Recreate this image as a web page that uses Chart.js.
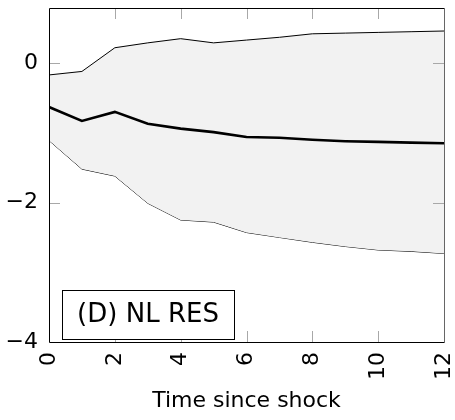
<!DOCTYPE html>
<html><head><meta charset="utf-8">
<script src="https://cdn.jsdelivr.net/npm/chart.js@4/dist/chart.umd.min.js"></script>
<style>html,body{margin:0;padding:0;background:#fff}#wrap{width:455px;height:420px}</style>
</head><body><div id="wrap"><canvas id="c" width="455" height="420"></canvas></div>
<script>
const steps = [0,1,2,3,4,5,6,7,8,9,10,11,12];
const upperBand = [-0.17,-0.12,0.22,0.29,0.35,0.29,0.33,0.37,0.42,0.43,0.44,0.45,0.46];
const meanLine  = [-0.63,-0.83,-0.70,-0.87,-0.94,-0.99,-1.06,-1.07,-1.10,-1.12,-1.13,-1.14,-1.15];
const lowerBand = [-1.11,-1.52,-1.62,-2.01,-2.25,-2.28,-2.43,-2.50,-2.57,-2.63,-2.68,-2.70,-2.73];
const xTicks = [0,2,4,6,8,10,12];
const yTicks = [-4,-2,0];
const panelLabel = '(D) NL RES';
const xTitle = 'Time since shock';
const FONT = "'DejaVu Sans', sans-serif";

const pts = arr => steps.map((x,i)=>({x:x,y:arr[i]}));

const framePlugin = {
  id:'frame',
  afterDatasetsDraw(chart){
    const {ctx, chartArea:a, scales} = chart;
    ctx.save();
    ctx.strokeStyle = '#a8a8a8'; ctx.lineWidth = 1;
    const tl = 11;
    xTicks.forEach(v=>{
      const px = Math.round(scales.x.getPixelForValue(v))+0.5;
      if (px <= a.left+1 || px >= a.right-1) return;
      ctx.beginPath(); ctx.moveTo(px,a.bottom); ctx.lineTo(px,a.bottom-tl); ctx.stroke();
      ctx.beginPath(); ctx.moveTo(px,a.top); ctx.lineTo(px,a.top+tl); ctx.stroke();
    });
    yTicks.forEach(v=>{
      const py = Math.round(scales.y.getPixelForValue(v))+0.5;
      if (py <= a.top+1 || py >= a.bottom-1) return;
      ctx.beginPath(); ctx.moveTo(a.left,py); ctx.lineTo(a.left+tl,py); ctx.stroke();
      ctx.beginPath(); ctx.moveTo(a.right,py); ctx.lineTo(a.right-tl,py); ctx.stroke();
    });
    const bx = a.left+13, by = a.bottom-52, bw = 172, bh = 49;
    ctx.fillStyle = '#fff';
    ctx.fillRect(bx,by,bw,bh);
    ctx.strokeStyle = '#000'; ctx.lineWidth = 1;
    ctx.strokeRect(bx+0.5,by+0.5,bw,bh);
    ctx.fillStyle = '#000';
    ctx.font = '26px ' + FONT;
    ctx.textAlign = 'center'; ctx.textBaseline = 'middle';
    ctx.fillText(panelLabel, bx+bw/2, by+bh/2+1);
    ctx.lineWidth = 1;
    ctx.strokeStyle = '#000';
    ctx.beginPath();
    ctx.moveTo(a.right, a.top+0.5); ctx.lineTo(a.left+0.5, a.top+0.5);
    ctx.lineTo(a.left+0.5, a.bottom+0.5); ctx.lineTo(a.right, a.bottom+0.5);
    ctx.stroke();
    ctx.strokeStyle = '#666';
    ctx.beginPath(); ctx.moveTo(a.right+0.5, a.top); ctx.lineTo(a.right+0.5, a.bottom+1); ctx.stroke();
    ctx.restore();
  }
};

new Chart(document.getElementById('c'), {
  type:'line',
  data:{datasets:[
    {data:pts(upperBand), borderColor:'#000', borderWidth:1, pointRadius:0, fill:'+1', backgroundColor:'#f2f2f2', tension:0, order:2},
    {data:pts(lowerBand), borderColor:'#000', borderWidth:1, pointRadius:0, fill:false, tension:0, order:2},
    {data:pts(meanLine), borderColor:'#000', borderWidth:2.6, pointRadius:0, fill:false, tension:0, order:1}
  ]},
  options:{
    responsive:false, animation:false, devicePixelRatio:1,
    layout:{padding:{top:8, right:11, left:0, bottom:0}},
    plugins:{legend:{display:false}, tooltip:{enabled:false}},
    scales:{
      x:{type:'linear', min:0, max:12,
        afterBuildTicks(s){ s.ticks = xTicks.map(v=>({value:v})); },
        afterFit(s){ s.height = 78; s.paddingLeft = 0; s.paddingRight = 0; },
        grid:{display:false, drawTicks:false}, border:{display:false},
        ticks:{minRotation:90, maxRotation:90, padding:10, color:'#000', font:{family:FONT, size:22},
          callback:v=>String(v).replace('-','\u2212')},
        title:{display:true, text:xTitle, color:'#000', font:{family:FONT, size:22}, padding:{top:6, bottom:6}}
      },
      y:{type:'linear', min:-4, max:0.79,
        afterBuildTicks(s){ s.ticks = yTicks.map(v=>({value:v})); },
        afterFit(s){ s.width = 49; s.paddingTop = 0; s.paddingBottom = 0; },
        grid:{display:false, drawTicks:false}, border:{display:false},
        ticks:{padding:11, color:'#000', font:{family:FONT, size:22},
          callback:v=>String(v).replace('-','\u2212')}
      }
    }
  },
  plugins:[framePlugin]
});
</script></body></html>
